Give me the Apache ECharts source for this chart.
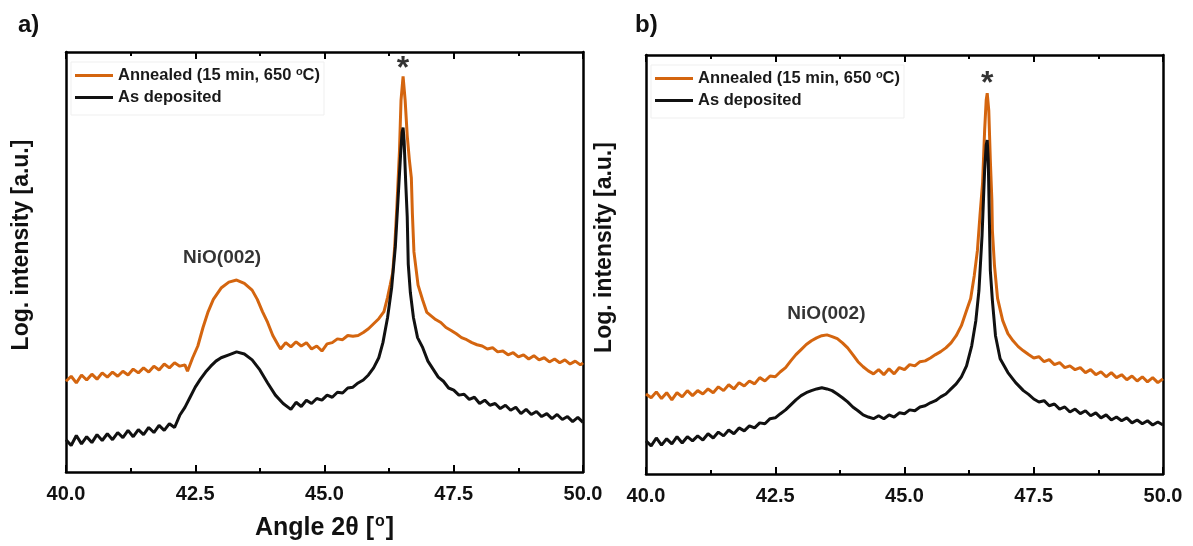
<!DOCTYPE html>
<html>
<head>
<meta charset="utf-8">
<script src="https://cdn.jsdelivr.net/npm/echarts@6/dist/echarts.min.js"></script>
<style>
html,body{margin:0;padding:0;background:#fff;}
#chart{width:1193px;height:546px;}
</style>
</head>
<body>
<div id="chart"></div>
<script>
// ---------- DATA ----------
const xTicks = [40.0, 42.5, 45.0, 47.5, 50.0];
const seriesNames = ['Annealed (15 min, 650 oC)', 'As deposited'];

// Panel a) – annealed (orange), [2θ, log intensity a.u.]
const annealedA = [[40.00,21.6],[40.10,22.8],[40.20,21.2],[40.30,23.1],[40.40,21.9],[40.50,23.3],[40.60,22.1],[40.70,23.6],[40.80,22.6],[40.90,23.8],[41.00,22.8],[41.10,24.0],[41.20,23.1],[41.30,24.5],[41.40,23.6],[41.50,24.8],[41.60,23.8],[41.70,25.2],[41.80,24.3],[41.90,25.7],[42.00,24.8],[42.10,26.0],[42.20,25.2],[42.30,25.5],[42.35,24.0],[42.45,27.2],[42.55,30.0],[42.65,34.4],[42.75,38.2],[42.85,41.1],[43.00,43.8],[43.15,45.2],[43.30,45.7],[43.45,44.9],[43.60,43.3],[43.70,41.1],[43.80,38.2],[43.90,35.6],[44.00,32.5],[44.10,30.3],[44.15,29.3],[44.25,30.8],[44.35,29.8],[44.45,31.0],[44.55,30.0],[44.65,30.8],[44.75,29.3],[44.85,30.0],[44.95,28.8],[45.05,30.5],[45.15,30.8],[45.25,31.7],[45.35,31.5],[45.45,32.5],[45.55,32.3],[45.65,32.5],[45.75,33.2],[45.85,34.1],[45.95,35.3],[46.05,36.5],[46.15,38.2],[46.22,41.6],[46.27,44.5],[46.32,47.5],[46.36,54.0],[46.40,63.2],[46.45,76.4],[46.48,88.5],[46.52,94.2],[46.56,88.5],[46.60,80.1],[46.64,74.5],[46.68,70.0],[46.70,61.5],[46.73,52.4],[46.81,44.5],[46.90,40.9],[46.98,38.0],[47.05,37.3],[47.15,36.3],[47.25,35.6],[47.35,34.4],[47.45,33.7],[47.55,32.9],[47.65,32.0],[47.75,31.5],[47.85,30.8],[47.95,30.3],[48.05,30.0],[48.15,29.3],[48.25,29.6],[48.35,28.6],[48.45,28.8],[48.55,27.9],[48.65,28.4],[48.75,27.4],[48.85,27.9],[48.95,26.9],[49.05,27.7],[49.15,26.7],[49.25,27.2],[49.35,26.2],[49.45,26.9],[49.55,26.0],[49.65,26.7],[49.75,25.7],[49.85,26.4],[49.95,25.5],[50.00,26.0]];

// Panel a) – as deposited (black)
const depositedA = [[40.00,7.7],[40.10,6.3],[40.20,8.7],[40.30,6.7],[40.40,8.4],[40.50,7.0],[40.60,8.9],[40.70,7.5],[40.80,9.1],[40.90,7.7],[41.00,9.4],[41.10,8.2],[41.20,9.9],[41.30,8.4],[41.40,10.1],[41.50,8.9],[41.60,10.6],[41.70,9.4],[41.80,11.1],[41.90,9.9],[42.00,11.5],[42.10,10.6],[42.20,13.5],[42.30,15.4],[42.40,17.8],[42.50,20.2],[42.60,22.1],[42.70,23.8],[42.80,25.2],[42.90,26.4],[43.00,27.2],[43.15,27.9],[43.30,28.6],[43.45,28.1],[43.60,26.7],[43.75,24.3],[43.90,21.2],[44.05,18.3],[44.20,16.3],[44.35,14.9],[44.45,16.6],[44.55,15.6],[44.65,17.1],[44.75,16.3],[44.85,17.5],[44.95,17.1],[45.05,18.3],[45.15,17.8],[45.25,19.0],[45.35,18.8],[45.45,20.0],[45.55,20.2],[45.65,21.2],[45.75,21.9],[45.85,23.1],[45.95,24.8],[46.05,27.2],[46.13,30.8],[46.22,36.8],[46.30,44.0],[46.37,53.6],[46.42,64.4],[46.47,75.2],[46.50,80.8],[46.52,82.0],[46.54,78.8],[46.57,69.2],[46.60,60.8],[46.62,49.5],[46.66,42.8],[46.72,36.8],[46.80,32.0],[46.90,29.6],[47.00,26.4],[47.10,24.5],[47.20,22.6],[47.30,21.6],[47.40,20.0],[47.50,19.5],[47.60,18.3],[47.70,18.5],[47.80,17.3],[47.90,17.8],[48.00,16.3],[48.10,17.1],[48.20,15.9],[48.30,16.3],[48.40,15.1],[48.50,15.9],[48.60,14.7],[48.70,15.4],[48.80,13.9],[48.90,14.9],[49.00,13.7],[49.10,14.4],[49.20,13.2],[49.30,13.9],[49.40,12.7],[49.50,13.7],[49.60,12.5],[49.70,13.2],[49.80,12.0],[49.90,13.0],[50.00,11.8]];

// Panel b) – annealed (orange)
const annealedB = [[40.00,19.1],[40.10,18.2],[40.20,19.6],[40.30,18.0],[40.40,19.4],[40.50,17.7],[40.60,19.4],[40.70,18.4],[40.80,19.9],[40.90,18.7],[41.00,19.9],[41.10,19.1],[41.20,20.3],[41.30,19.4],[41.40,20.8],[41.50,19.9],[41.60,21.3],[41.70,20.3],[41.80,21.8],[41.90,21.0],[42.00,22.2],[42.10,21.5],[42.20,23.0],[42.30,22.2],[42.40,23.4],[42.50,23.2],[42.60,24.4],[42.70,25.4],[42.80,27.0],[42.90,28.5],[43.00,29.7],[43.10,30.9],[43.20,31.8],[43.30,32.5],[43.40,33.0],[43.50,33.2],[43.60,32.8],[43.70,32.3],[43.80,31.3],[43.90,30.1],[44.00,28.5],[44.10,26.8],[44.20,25.6],[44.30,24.6],[44.40,23.9],[44.50,24.9],[44.60,23.7],[44.70,25.1],[44.80,23.9],[44.90,25.4],[45.00,24.9],[45.10,26.1],[45.20,25.8],[45.30,26.8],[45.40,27.0],[45.50,27.7],[45.60,28.5],[45.70,29.2],[45.80,30.1],[45.90,31.3],[46.00,33.0],[46.10,35.4],[46.20,39.0],[46.28,41.9],[46.35,47.4],[46.41,53.3],[46.46,61.7],[46.51,69.4],[46.55,82.0],[46.58,89.2],[46.60,90.9],[46.63,86.8],[46.66,74.9],[46.69,65.3],[46.70,58.1],[46.74,49.8],[46.80,41.9],[46.90,36.6],[47.00,33.5],[47.10,31.8],[47.20,30.4],[47.30,29.4],[47.40,28.5],[47.50,27.7],[47.60,28.0],[47.70,26.8],[47.80,27.3],[47.90,26.1],[48.00,26.6],[48.10,25.4],[48.20,25.8],[48.30,24.9],[48.40,25.4],[48.50,24.2],[48.60,24.9],[48.70,23.7],[48.80,24.4],[48.90,23.2],[49.00,24.2],[49.10,23.0],[49.20,23.7],[49.30,22.5],[49.40,23.4],[49.50,22.2],[49.60,23.2],[49.70,22.0],[49.80,23.0],[49.90,21.8],[50.00,22.7]];

// Panel b) – as deposited (black)
const depositedB = [[40.00,7.9],[40.10,6.7],[40.20,8.6],[40.30,6.9],[40.40,8.4],[40.50,7.2],[40.60,8.9],[40.70,7.4],[40.80,8.9],[40.90,7.9],[41.00,9.1],[41.10,8.1],[41.20,9.6],[41.30,8.6],[41.40,10.0],[41.50,9.1],[41.60,10.5],[41.70,9.6],[41.80,11.0],[41.90,10.3],[42.00,11.5],[42.10,11.0],[42.20,12.2],[42.30,12.0],[42.40,13.2],[42.50,13.4],[42.60,14.4],[42.70,15.3],[42.80,16.5],[42.90,17.7],[43.00,18.7],[43.10,19.4],[43.20,19.9],[43.30,20.3],[43.40,20.6],[43.50,20.3],[43.60,19.9],[43.70,19.1],[43.80,18.2],[43.90,17.2],[44.00,16.0],[44.10,15.1],[44.20,14.1],[44.30,13.6],[44.40,13.2],[44.50,13.9],[44.60,13.2],[44.70,14.1],[44.80,13.6],[44.90,14.6],[45.00,14.4],[45.10,15.3],[45.20,15.1],[45.30,16.0],[45.40,16.3],[45.50,17.0],[45.60,17.5],[45.70,18.4],[45.80,19.1],[45.90,20.3],[46.00,21.5],[46.10,23.2],[46.20,25.8],[46.30,30.6],[46.38,36.6],[46.44,43.8],[46.50,56.9],[46.55,72.5],[46.58,78.5],[46.60,79.7],[46.62,74.9],[46.64,61.7],[46.66,48.6],[46.70,41.4],[46.76,33.0],[46.85,27.5],[47.00,24.2],[47.15,21.8],[47.30,19.9],[47.40,19.0],[47.50,17.9],[47.60,17.2],[47.70,17.5],[47.80,16.3],[47.90,16.7],[48.00,15.5],[48.10,16.0],[48.20,14.8],[48.30,15.5],[48.40,14.4],[48.50,15.1],[48.60,13.9],[48.70,14.6],[48.80,13.4],[48.90,14.1],[49.00,12.9],[49.10,13.6],[49.20,12.7],[49.30,13.4],[49.40,12.2],[49.50,12.9],[49.60,12.0],[49.70,12.7],[49.80,11.7],[49.90,12.4],[50.00,11.7]];

// Annotations: [2θ, intensity, text]
const notesA = [[46.52, 96.0, '*'], [43.02, 51.0, 'NiO(002)']];
const notesB = [[46.60, 93.0, '*'], [43.49, 38.3, 'NiO(002)']];

// ---------- CHART ----------
const ORANGE = '#d4650f';
const BLACK = '#111111';
const FONT = '"Liberation Sans", Arial, sans-serif';

const chart = echarts.init(document.getElementById('chart'), null, {renderer: 'canvas'});

function xAxes(gridIndex, showName) {
  const common = {
    type: 'value', gridIndex, min: 40, max: 50, interval: 2.5,
    axisLine: {show: true, onZero: false, lineStyle: {color: '#000', width: 2.5}},
    axisTick: {show: true, inside: true, length: 7, lineStyle: {color: '#000', width: 2}},
    minorTick: {show: true, splitNumber: 2, length: 4, lineStyle: {color: '#000', width: 2}},
    splitLine: {show: false}
  };
  return [
    Object.assign({}, common, {
      position: 'bottom',
      axisLabel: {show: true, color: '#111', fontFamily: FONT, fontWeight: 'bold', fontSize: 20, margin: 12,
        formatter: v => xTicks.includes(v) ? v.toFixed(1) : ''},
      name: showName ? 'Angle 2θ [{sup|o}]' : '',
      nameLocation: 'middle', nameGap: 42,
      nameTextStyle: {color: '#111', fontFamily: FONT, fontWeight: 'bold', fontSize: 25,
        rich: {sup: {fontSize: 16, fontWeight: 'bold', fontFamily: FONT, color: '#111', verticalAlign: 'top', padding: [0, 1, 12, 1]}}}
    }),
    Object.assign({}, common, {position: 'top', axisLabel: {show: false}, name: ''})
  ];
}

function yAxes(gridIndex, gap) {
  return [
    {type: 'value', gridIndex, min: 0, max: 100, position: 'left',
      axisLine: {show: true, onZero: false, lineStyle: {color: '#000', width: 2.5}},
      axisTick: {show: false}, axisLabel: {show: false}, splitLine: {show: false},
      name: 'Log. intensity [a.u.]', nameLocation: 'middle', nameGap: gap,
      nameTextStyle: {color: '#111', fontFamily: FONT, fontWeight: 'bold', fontSize: 23, padding: [0, 0, 0, 34]}},
    {type: 'value', gridIndex, min: 0, max: 100, position: 'right',
      axisLine: {show: true, onZero: false, lineStyle: {color: '#000', width: 2.5}},
      axisTick: {show: false}, axisLabel: {show: false}, splitLine: {show: false}}
  ];
}

function lineSeries(name, data, color, xi, yi) {
  return {type: 'line', name, data, xAxisIndex: xi, yAxisIndex: yi, symbol: 'none',
    lineStyle: {color, width: 3}, itemStyle: {color}, silent: true, z: color === ORANGE ? 2 : 3};
}

function noteSeries(notes, xi, yi) {
  return {type: 'scatter', data: notes, xAxisIndex: xi, yAxisIndex: yi, symbolSize: 1, silent: true,
    itemStyle: {color: 'rgba(0,0,0,0)'},
    label: {show: true, position: 'inside', color: '#000', fontFamily: FONT, fontWeight: 'bold', fontSize: 19,
      formatter: p => p.data[2] === '*' ? '{star|*}' : p.data[2],
      rich: {star: {fontSize: 32, fontWeight: 'bold', fontFamily: FONT, color: '#000'}}},
    z: 5,
    emphasis: {disabled: true}};
}

const legendCommon = {
  orient: 'vertical', icon: 'rect', itemWidth: 38, itemHeight: 3, itemGap: 3,
  borderColor: '#efefef', borderWidth: 1, padding: [4, 4, 8, 4],
  data: seriesNames,
  formatter: n => n === seriesNames[0] ? 'Annealed (15 min, 650 {sup|o}C)' : n,
  textStyle: {color: '#1a1a1a', fontFamily: FONT, fontWeight: 'bold', fontSize: 16.5, lineHeight: 19,
    rich: {sup: {fontSize: 11, fontWeight: 'bold', fontFamily: FONT, color: '#1a1a1a', verticalAlign: 'top', lineHeight: 19, padding: [0, 0, 8, 0]}}}
};

const xa = xAxes(0, true), xb = xAxes(1, false);
const ya = yAxes(0, 33), yb = yAxes(1, 30);

chart.setOption({
  animation: false,
  backgroundColor: '#fff',
  title: [
    {text: 'a)', left: 13, top: 8, textStyle: {fontFamily: FONT, fontWeight: 'bold', fontSize: 24, color: '#111'}},
    {text: 'b)', left: 630, top: 8, textStyle: {fontFamily: FONT, fontWeight: 'bold', fontSize: 24, color: '#111'}}
  ],
  grid: [
    {left: 66, right: 610, top: 52, height: 420},
    {left: 646, right: 30, top: 55, height: 419}
  ],
  xAxis: [xa[0], xa[1], xb[0], xb[1]].map((a, i) => Object.assign(a, {gridIndex: i < 2 ? 0 : 1})),
  yAxis: [ya[0], ya[1], yb[0], yb[1]].map((a, i) => Object.assign(a, {gridIndex: i < 2 ? 0 : 1})),
  legend: [
    Object.assign({}, legendCommon, {left: 71, top: 62}),
    Object.assign({}, legendCommon, {left: 651, top: 65})
  ],
  series: [
    lineSeries(seriesNames[0], annealedA, ORANGE, 0, 0),
    lineSeries(seriesNames[1], depositedA, BLACK, 0, 0),
    noteSeries(notesA, 0, 0),
    lineSeries(seriesNames[0], annealedB, ORANGE, 2, 2),
    lineSeries(seriesNames[1], depositedB, BLACK, 2, 2),
    noteSeries(notesB, 2, 2)
  ]
});
</script>
</body>
</html>
